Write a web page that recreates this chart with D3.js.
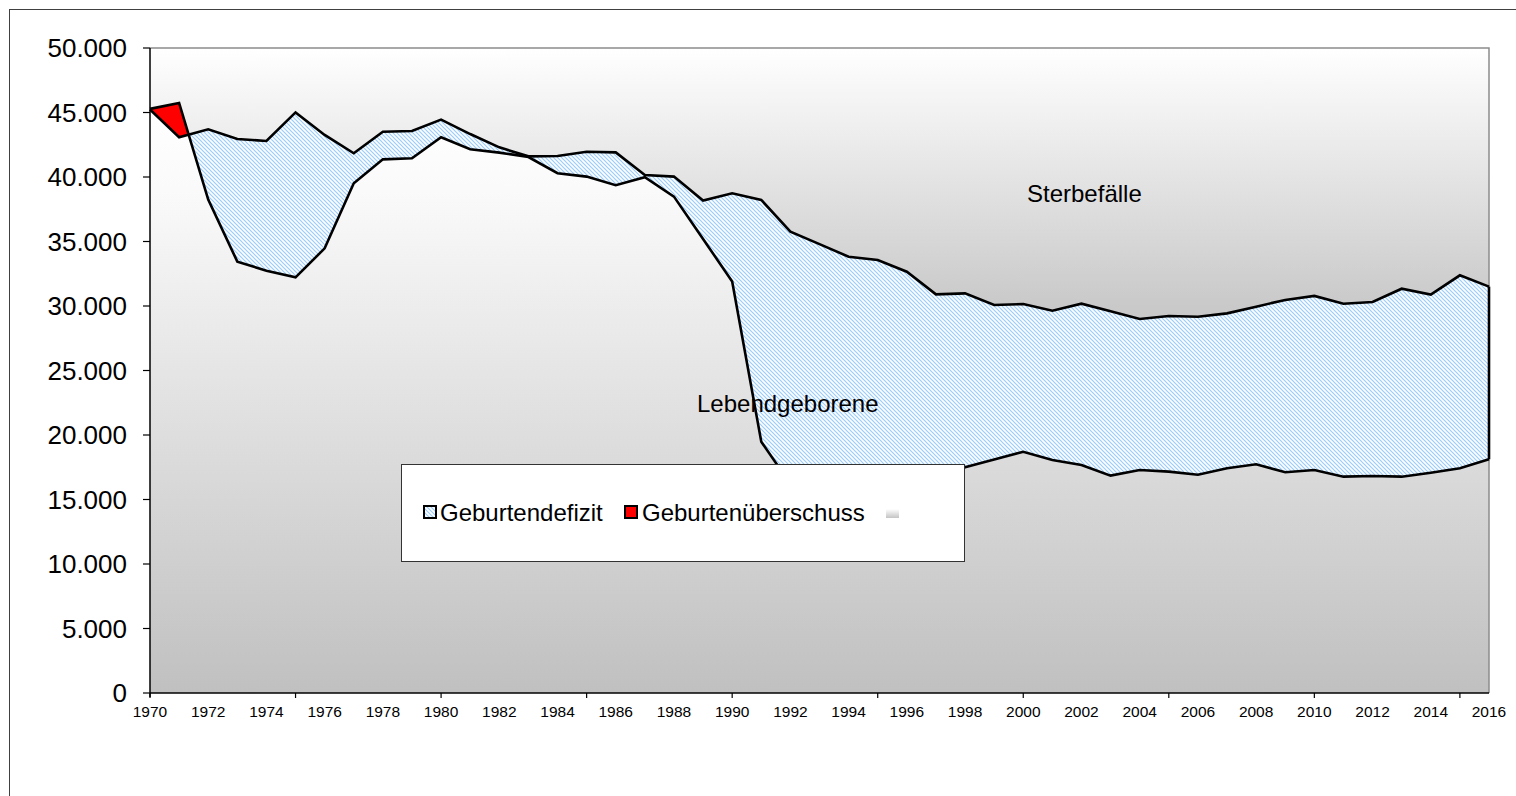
<!DOCTYPE html>
<html><head><meta charset="utf-8">
<script src="https://cdn.jsdelivr.net/npm/d3@7/dist/d3.min.js"></script>
<style>body{margin:0;background:#fff;}svg{display:block;font-family:"Liberation Sans",Arial,sans-serif;}</style>
</head><body>
<script>
const years = d3.range(1970, 2017);
const births = [45280,45740,38250,33440,32740,32220,34470,39510,41370,41450,
  43080,42150,41890,41550,40290,40030,39360,39980,38480,35200,
  31890,19480,16200,15000,14300,14600,15500,16500,17500,18100,
  18700,18060,17670,16850,17290,17160,16920,17420,17730,17110,
  17290,16770,16820,16770,17080,17420,18120];
const deaths = [45230,43080,43700,42950,42790,45010,43260,41840,43510,43570,
  44450,43330,42300,41600,41630,41960,41910,40160,40030,38170,
  38740,38220,35760,34800,33820,33570,32660,30900,30980,30080,
  30150,29640,30180,29590,28990,29220,29170,29430,29950,30470,
  30780,30180,30310,31340,30880,32380,31500];
const yTicks = d3.range(0, 50001, 5000);
const xLabelYears = d3.range(1970, 2017, 2);
const xTickYears = d3.range(1970, 2017, 5);
const legendItems = ["Geburtendefizit", "Geburtenüberschuss", ""];
const labelDeaths = "Sterbefälle";
const labelBirths = "Lebendgeborene";

const data = years.map((yr, i) => ({yr, b: births[i], d: deaths[i]}));
const W = 1516, H = 796;
const x = d3.scaleLinear().domain([1970, 2016]).range([150, 1489]);
const y = d3.scaleLinear().domain([0, 50000]).range([693, 48]);

const svg = d3.select("body").append("svg").attr("width", W).attr("height", H);
const defs = svg.append("defs");

const bg = defs.append("linearGradient").attr("id","bgGrad").attr("x1",0).attr("y1",0).attr("x2",0).attr("y2",1);
bg.append("stop").attr("offset","0%").attr("stop-color","#ffffff");
bg.append("stop").attr("offset","40%").attr("stop-color","#c9c9c9");
bg.append("stop").attr("offset","100%").attr("stop-color","#c0c0c0");

const bgr = defs.append("linearGradient").attr("id","birthGrad").attr("x1",0).attr("y1",0).attr("x2",0).attr("y2",1);
bgr.append("stop").attr("offset","0%").attr("stop-color","#ffffff");
bgr.append("stop").attr("offset","15%").attr("stop-color","#fafafa");
bgr.append("stop").attr("offset","100%").attr("stop-color","#c0c0c0");

const pat = defs.append("pattern").attr("id","hatch").attr("width",4).attr("height",4).attr("patternUnits","userSpaceOnUse");
pat.append("rect").attr("width",4).attr("height",4).attr("fill","#ffffff");
pat.append("path").attr("d","M-1,-1L5,5M-1,3L1,5M3,-1L5,1").attr("stroke","#99ccff").attr("stroke-width",1.2);

const aboveBirths = d3.area().x(d => x(d.yr)).y0(y(50000)).y1(d => y(d.b));
const belowBirths = d3.area().x(d => x(d.yr)).y0(d => y(d.b)).y1(y(0));
defs.append("clipPath").attr("id","clipAbove").append("path").attr("d", aboveBirths(data));
defs.append("clipPath").attr("id","clipBelow").append("path").attr("d", belowBirths(data));

// outer chart border
svg.append("rect").attr("x",9.5).attr("y",9.5).attr("width",1530).attr("height",820)
  .attr("fill","none").attr("stroke","#404040").attr("stroke-width",1);

// plot background
svg.append("rect").attr("x",x(1970)).attr("y",y(50000)).attr("width",x(2016)-x(1970)).attr("height",y(0)-y(50000))
  .attr("fill","url(#bgGrad)");

// births area
svg.append("path").attr("d", d3.area().x(d=>x(d.yr)).y0(y(0)).y1(d=>y(d.b))(data)).attr("fill","url(#birthGrad)");

const band = d3.area().x(d => x(d.yr)).y0(d => y(d.b)).y1(d => y(d.d));
svg.append("path").attr("d", band(data)).attr("fill","url(#hatch)").attr("clip-path","url(#clipAbove)");
svg.append("path").attr("d", band(data)).attr("fill","#ff0000").attr("clip-path","url(#clipBelow)");

// plot border (gray top/right)
svg.append("path").attr("d",`M${x(1970)},${y(50000)}H${x(2016)}V${y(0)}`).attr("fill","none").attr("stroke","#8c8c8c").attr("stroke-width",1.5);

const line = key => d3.line().x(d => x(d.yr)).y(d => y(d[key]));
svg.append("path").attr("d", line("d")(data)).attr("fill","none").attr("stroke","#000").attr("stroke-width",2.6).attr("stroke-linejoin","miter");
svg.append("path").attr("d", line("b")(data)).attr("fill","none").attr("stroke","#000").attr("stroke-width",2.6).attr("stroke-linejoin","miter");
const last = data[data.length-1];
svg.append("line").attr("x1",x(last.yr)).attr("x2",x(last.yr)).attr("y1",y(last.b)).attr("y2",y(last.d)).attr("stroke","#000").attr("stroke-width",2.6);

// axes
const ya = svg.append("g");
ya.append("line").attr("x1",150).attr("x2",150).attr("y1",y(50000)).attr("y2",y(0)+4).attr("stroke","#000").attr("stroke-width",1.5);
yTicks.forEach(v => {
  ya.append("line").attr("x1",143).attr("x2",150).attr("y1",y(v)).attr("y2",y(v)).attr("stroke","#000").attr("stroke-width",1.2);
  ya.append("text").attr("x",127).attr("y",y(v)+9.3).attr("text-anchor","end").attr("font-size",26).attr("fill","#000")
    .text(d3.format(",")(v).replace(/,/g,"."));
});
const xa = svg.append("g");
xa.append("line").attr("x1",x(1970)).attr("x2",x(2016)).attr("y1",y(0)).attr("y2",y(0)).attr("stroke","#000").attr("stroke-width",1.5);
xTickYears.forEach(t => {
  xa.append("line").attr("x1",x(t)).attr("x2",x(t)).attr("y1",y(0)).attr("y2",y(0)+5).attr("stroke","#000").attr("stroke-width",1.2);
});
xLabelYears.forEach(t => {
  xa.append("text").attr("x",x(t)).attr("y",717).attr("text-anchor","middle").attr("font-size",15.5).attr("fill","#000").text(t);
});

// labels
svg.append("text").attr("x",1027).attr("y",202).attr("font-size",24).attr("fill","#000").text(labelDeaths);
svg.append("text").attr("x",697).attr("y",412).attr("font-size",24).attr("fill","#000").text(labelBirths);

// legend
const lg = svg.append("g");
lg.append("rect").attr("x",401.5).attr("y",464.5).attr("width",563).attr("height",97).attr("fill","#fff").attr("stroke","#333").attr("stroke-width",1);
const lgGrad = defs.append("linearGradient").attr("id","lgGrad").attr("x1",0).attr("y1",0).attr("x2",0).attr("y2",1);
lgGrad.append("stop").attr("offset","0%").attr("stop-color","#ffffff");
lgGrad.append("stop").attr("offset","100%").attr("stop-color","#c4c4c4");
lg.append("rect").attr("x",424).attr("y",506).attr("width",12).attr("height",12).attr("fill","url(#hatch)").attr("stroke","#000").attr("stroke-width",2);
lg.append("text").attr("x",440).attr("y",521).attr("font-size",24).text(legendItems[0]);
lg.append("rect").attr("x",625).attr("y",506).attr("width",12).attr("height",12).attr("fill","#ff0000").attr("stroke","#000").attr("stroke-width",2);
lg.append("text").attr("x",642).attr("y",521).attr("font-size",24).text(legendItems[1]);
lg.append("rect").attr("x",886).attr("y",509).attr("width",13).attr("height",9).attr("fill","url(#lgGrad)");
lg.append("text").attr("x",903).attr("y",521).attr("font-size",24).text(legendItems[2]);
</script>
</body></html>
